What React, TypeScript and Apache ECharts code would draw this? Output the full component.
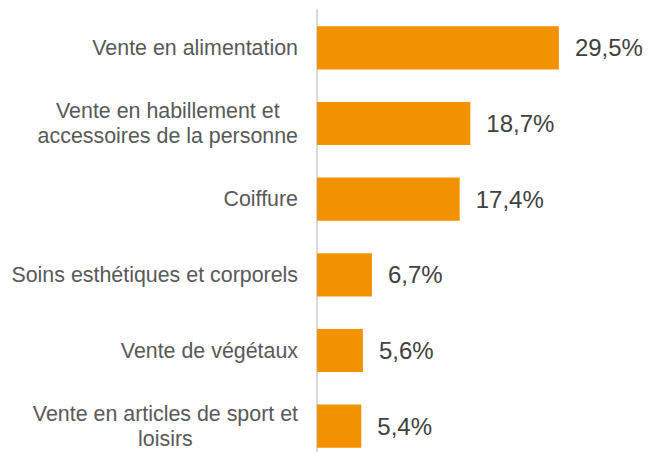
import React, { useEffect, useRef } from "react";
import * as echarts from "echarts";

const categories = [
  "Vente en alimentation",
  "Vente en habillement et\naccessoires de la personne",
  "Coiffure",
  "Soins esthétiques et corporels",
  "Vente de végétaux",
  "Vente en articles de sport et\nloisirs",
];
const values = [29.5, 18.7, 17.4, 6.7, 5.6, 5.4];

export default function App() {
  const ref = useRef<HTMLDivElement>(null);
  useEffect(() => {
    const chart = echarts.init(ref.current!, undefined, { renderer: "svg" });
    chart.setOption({
      animation: false,
      grid: {
        left: 317,
        top: 10,
        width: 328,
        height: 454,
        containLabel: false,
        outerBoundsMode: "none",
      },
      xAxis: {
        type: "value",
        min: 0,
        max: 40,
        show: false,
      },
      yAxis: {
        type: "category",
        inverse: true,
        data: categories,
        axisLine: { show: true, lineStyle: { color: "#d9d9d9", width: 2 } },
        axisTick: { show: false },
        axisLabel: {
          color: "#595959",
          fontSize: 21.4,
          fontFamily: "Liberation Sans, Arial, sans-serif",
          margin: 19,
          lineHeight: 25,
          align: "right",
          formatter: (v: string) =>
            v
              .split("\n")
              .map((l) => `{c|${l}}`)
              .join("\n"),
          rich: {
            c: {
              align: "center",
              color: "#595959",
              fontSize: 21.4,
              lineHeight: 25,
              fontFamily: "Liberation Sans, Arial, sans-serif",
            },
          },
        },
      },
      series: [
        {
          type: "bar",
          data: values,
          barWidth: "57%",
          itemStyle: { color: "#F39200" },
          label: {
            show: true,
            position: "right",
            distance: 16,
            color: "#404040",
            fontSize: 24,
            fontFamily: "Liberation Sans, Arial, sans-serif",
            formatter: (p: any) => String(p.value).replace(".", ",") + "%",
          },
        },
      ],
    });
    return () => chart.dispose();
  }, []);
  return <div ref={ref} style={{ width: 658, height: 452, position: "absolute", left: 0, top: 0 }} />;
}
